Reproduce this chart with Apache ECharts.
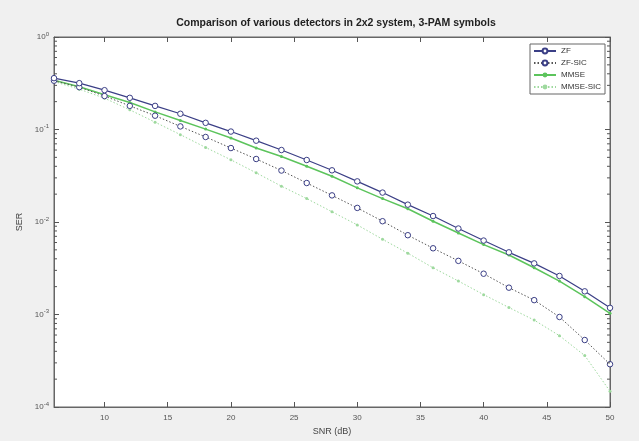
<!DOCTYPE html>
<html>
<head>
<meta charset="utf-8">
<script src="https://cdn.jsdelivr.net/npm/echarts@6/dist/echarts.min.js"></script>
<style>
  html, body { margin: 0; padding: 0; background: #f0f0f0; }
  #main { width: 639px; height: 441px; }
</style>
</head>
<body>
<div id="main"></div>
<script>
// SNR points (dB)
var snr = [6, 8, 10, 12, 14, 16, 18, 20, 22, 24, 26, 28, 30, 32, 34, 36, 38, 40, 42, 44, 46, 48, 50];

// symbol error rates
var serZF = [0.359, 0.317, 0.266, 0.22, 0.18, 0.148, 0.118, 0.095, 0.0757, 0.06, 0.0468, 0.0362, 0.0275, 0.0208,
  0.0154, 0.0116, 0.0085, 0.0063, 0.0047, 0.00357, 0.00261, 0.00178, 0.00118];
var serZFSIC = [0.337, 0.287, 0.23, 0.18, 0.141, 0.108, 0.083, 0.063, 0.048, 0.036, 0.0264, 0.0194, 0.0142, 0.0102,
  0.0072, 0.0052, 0.0038, 0.00276, 0.00195, 0.00143, 0.00094, 0.00053, 0.00029];
var serMMSE = [0.34, 0.29, 0.237, 0.196, 0.155, 0.125, 0.101, 0.081, 0.063, 0.051, 0.04, 0.0312, 0.0234, 0.0179,
  0.0139, 0.0102, 0.0076, 0.0057, 0.0044, 0.0032, 0.0023, 0.00156, 0.00103];
var serMMSESIC = [0.33, 0.273, 0.218, 0.163, 0.12, 0.088, 0.064, 0.047, 0.034, 0.0244, 0.0179, 0.0129, 0.0093, 0.0065,
  0.0046, 0.0032, 0.0023, 0.00164, 0.00119, 0.00087, 0.00059, 0.00036, 0.000148];

var xTicks = [10, 15, 20, 25, 30, 35, 40, 45, 50];
var yDecades = [-4, -3, -2, -1, 0];

// minor tick values 2..9 x 10^k
var minorVals = [];
for (var k = -4; k < 0; k++) {
  for (var m = 2; m <= 9; m++) {
    minorVals.push(m * Math.pow(10, k));
  }
}

var myChart = echarts.init(document.getElementById('main'));

function pairs(ys) {
  return snr.map(function (x, i) { return [x, ys[i]]; });
}

var tickColor = '#555';

var option = {
  backgroundColor: '#f0f0f0',
  animation: false,
  textStyle: { fontFamily: 'Liberation Sans, Arial, sans-serif' },
  title: {
    text: 'Comparison of various detectors in 2x2 system, 3-PAM symbols',
    left: 331,
    textAlign: 'center',
    top: 13,
    textStyle: { fontSize: 10.5, fontWeight: 'bold', color: '#222' }
  },
  grid: { left: 54, right: 29, top: 37, bottom: 33, show: true, backgroundColor: '#fff', borderColor: '#666', borderWidth: 1 },
  legend: {
    orient: 'vertical',
    right: 34,
    top: 44,
    itemWidth: 22,
    itemHeight: 6,
    itemGap: 4,
    padding: [3, 4, 3, 3],
    backgroundColor: '#fff',
    borderColor: '#666',
    borderWidth: 1,
    borderRadius: 0,
    textStyle: { fontSize: 8, color: '#333' },
    data: ['ZF', 'ZF-SIC', 'MMSE', 'MMSE-SIC']
  },
  xAxis: [{
    type: 'value',
    min: 6,
    max: 50,
    name: 'SNR (dB)',
    nameLocation: 'middle',
    nameGap: 20,
    nameTextStyle: { fontSize: 9, color: '#444' },
    axisLine: { lineStyle: { color: '#666' } },
    axisTick: { inside: true, length: 5, customValues: xTicks, lineStyle: { color: tickColor } },
    axisLabel: { fontSize: 8, color: '#555', margin: 7, customValues: xTicks },
    splitLine: { show: false }
  }, {
    type: 'value',
    position: 'top',
    min: 6,
    max: 50,
    axisLine: { lineStyle: { color: '#666' } },
    axisTick: { inside: true, length: 5, customValues: xTicks, lineStyle: { color: tickColor } },
    axisLabel: { show: false },
    splitLine: { show: false }
  }],
  yAxis: [{
    type: 'log',
    logBase: 10,
    min: 1e-4,
    max: 1,
    name: 'SER',
    nameLocation: 'middle',
    nameGap: 19,
    nameTextStyle: { fontSize: 9, color: '#444' },
    axisLine: { lineStyle: { color: '#666' } },
    axisTick: { inside: true, length: 5, lineStyle: { color: tickColor } },
    axisLabel: {
      fontSize: 8, color: '#555', margin: 5,
      formatter: function (v) {
        var e = Math.round(Math.log10(v));
        if (yDecades.indexOf(e) < 0) return '';
        return '10{s|' + e + '}';
      },
      rich: { s: { fontSize: 6, color: '#555', verticalAlign: 'top', padding: [0, 0, 6, 0] } }
    },
    splitLine: { show: false }
  }, {
    type: 'log',
    logBase: 10,
    min: 1e-4,
    max: 1,
    position: 'right',
    axisLine: { lineStyle: { color: '#666' } },
    axisTick: { inside: true, length: 5, lineStyle: { color: tickColor } },
    axisLabel: { show: false },
    splitLine: { show: false }
  }],
  series: [
    {
      name: 'ZF',
      type: 'line',
      data: pairs(serZF),
      symbol: 'circle',
      symbolSize: 5.5,
      itemStyle: { color: '#fff', borderColor: '#3b3f86', borderWidth: 1 },
      lineStyle: { color: '#3b3f86', width: 1.2 },
      z: 5
    },
    {
      name: 'ZF-SIC',
      type: 'line',
      data: pairs(serZFSIC),
      symbol: 'circle',
      symbolSize: 5.5,
      itemStyle: { color: '#fff', borderColor: '#3b3f86', borderWidth: 1 },
      lineStyle: { color: '#555', width: 1, type: [1.5, 2] },
      z: 4
    },
    {
      name: 'MMSE',
      type: 'line',
      data: pairs(serMMSE),
      symbol: 'circle',
      symbolSize: 3,
      itemStyle: { color: '#5cc45c' },
      lineStyle: { color: '#5cc45c', width: 1.5 },
      z: 3
    },
    {
      name: 'MMSE-SIC',
      type: 'line',
      data: pairs(serMMSESIC),
      symbol: 'circle',
      symbolSize: 3,
      itemStyle: { color: '#9ed99e' },
      lineStyle: { color: '#9ed99e', width: 1, type: [1.5, 2] },
      z: 2
    },
    {
      name: 'minorTicks',
      type: 'custom',
      silent: true,
      data: minorVals,
      renderItem: function (params, api) {
        var v = api.value(0);
        var l = api.coord([6, v]);
        var r = api.coord([50, v]);
        return {
          type: 'group',
          children: [
            { type: 'line', shape: { x1: l[0], y1: l[1], x2: l[0] + 3, y2: l[1] }, style: { stroke: tickColor, lineWidth: 1 } },
            { type: 'line', shape: { x1: r[0], y1: r[1], x2: r[0] - 3, y2: r[1] }, style: { stroke: tickColor, lineWidth: 1 } }
          ]
        };
      },
      encode: { y: 0 },
      z: 6
    }
  ]
};

myChart.setOption(option);
</script>
</body>
</html>
